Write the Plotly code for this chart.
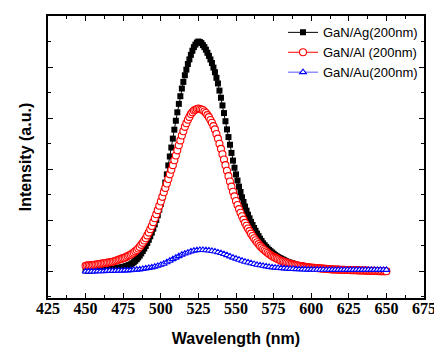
import plotly.graph_objects as go

wavelength_fine = list(range(450, 651, 1))
wavelength_au = list(range(450, 651, 2))

ag_200nm = [
    0.02, 0.02, 0.02, 0.022, 0.025, 0.025, 0.025, 0.028, 0.03, 0.03,
    0.03, 0.033, 0.035, 0.038, 0.04, 0.043, 0.045, 0.048, 0.05, 0.055,
    0.06, 0.065, 0.07, 0.075, 0.08, 0.087, 0.095, 0.105, 0.115, 0.127,
    0.14, 0.158, 0.18, 0.208, 0.24, 0.273, 0.31, 0.353, 0.40, 0.448,
    0.50, 0.558, 0.62, 0.688, 0.76, 0.838, 0.92, 1.008, 1.10, 1.208,
    1.32, 1.445, 1.58, 1.74, 1.90, 2.075, 2.25, 2.425, 2.60, 2.775,
    2.95, 3.115, 3.28, 3.43, 3.58, 3.71, 3.84, 3.95, 4.06, 4.15,
    4.24, 4.32, 4.39, 4.44, 4.48, 4.50, 4.49, 4.47, 4.43, 4.39,
    4.34, 4.28, 4.22, 4.15, 4.08, 3.99, 3.90, 3.79, 3.68, 3.54,
    3.40, 3.25, 3.10, 2.94, 2.78, 2.63, 2.48, 2.32, 2.17, 2.03,
    1.90, 1.78, 1.66, 1.555, 1.45, 1.36, 1.27, 1.19, 1.11, 1.04,
    0.97, 0.91, 0.85, 0.795, 0.74, 0.69, 0.64, 0.595, 0.55, 0.515,
    0.48, 0.45, 0.42, 0.395, 0.37, 0.345, 0.32, 0.30, 0.28, 0.265,
    0.25, 0.235, 0.22, 0.205, 0.19, 0.18, 0.17, 0.16, 0.15, 0.14,
    0.13, 0.125, 0.12, 0.115, 0.11, 0.105, 0.10, 0.095, 0.09, 0.085,
    0.08, 0.078, 0.075, 0.073, 0.07, 0.068, 0.065, 0.063, 0.06, 0.058,
    0.055, 0.053, 0.05, 0.048, 0.045, 0.043, 0.04, 0.039, 0.038, 0.037,
    0.036, 0.035, 0.034, 0.033, 0.032, 0.031, 0.03, 0.029, 0.028, 0.027,
    0.026, 0.025, 0.024, 0.023, 0.022, 0.021, 0.02, 0.019, 0.018, 0.017,
    0.016, 0.015, 0.014, 0.013, 0.012, 0.011, 0.01, 0.009, 0.008, 0.007,
    0.006,
]

al_200nm = [
    0.11, 0.115, 0.12, 0.12, 0.12, 0.125, 0.13, 0.135, 0.14, 0.145,
    0.15, 0.155, 0.16, 0.165, 0.17, 0.175, 0.18, 0.185, 0.19, 0.20,
    0.21, 0.22, 0.23, 0.24, 0.25, 0.26, 0.27, 0.285, 0.30, 0.315,
    0.33, 0.35, 0.37, 0.395, 0.42, 0.45, 0.48, 0.52, 0.56, 0.605,
    0.65, 0.705, 0.76, 0.825, 0.89, 0.965, 1.04, 1.12, 1.20, 1.285,
    1.37, 1.46, 1.55, 1.635, 1.72, 1.81, 1.90, 1.99, 2.08, 2.175,
    2.27, 2.37, 2.47, 2.565, 2.66, 2.745, 2.83, 2.90, 2.97, 3.025,
    3.08, 3.115, 3.15, 3.165, 3.18, 3.19, 3.18, 3.17, 3.16, 3.13,
    3.10, 3.06, 3.02, 2.965, 2.91, 2.845, 2.78, 2.69, 2.60, 2.50,
    2.40, 2.295, 2.19, 2.08, 1.97, 1.865, 1.76, 1.66, 1.56, 1.47,
    1.38, 1.30, 1.22, 1.15, 1.08, 1.015, 0.95, 0.895, 0.84, 0.79,
    0.74, 0.695, 0.65, 0.61, 0.57, 0.535, 0.50, 0.47, 0.44, 0.415,
    0.39, 0.365, 0.34, 0.32, 0.30, 0.285, 0.27, 0.255, 0.24, 0.225,
    0.21, 0.20, 0.19, 0.18, 0.17, 0.16, 0.15, 0.143, 0.135, 0.128,
    0.12, 0.115, 0.11, 0.105, 0.10, 0.095, 0.09, 0.085, 0.08, 0.078,
    0.075, 0.073, 0.07, 0.068, 0.065, 0.063, 0.06, 0.058, 0.055, 0.053,
    0.05, 0.048, 0.045, 0.043, 0.04, 0.039, 0.038, 0.037, 0.035, 0.034,
    0.033, 0.032, 0.03, 0.029, 0.028, 0.027, 0.026, 0.025, 0.024, 0.023,
    0.022, 0.021, 0.02, 0.019, 0.018, 0.017, 0.016, 0.015, 0.014, 0.013,
    0.012, 0.011, 0.01, 0.009, 0.008, 0.007, 0.006, 0.006, 0.005, 0.005,
    0.004,
]

au_200nm = [
    0.0, 0.0, 0.0, 0.0, 0.005, 0.005, 0.005, 0.01, 0.01, 0.01,
    0.01, 0.015, 0.015, 0.02, 0.02, 0.025, 0.03, 0.035, 0.04, 0.05,
    0.06, 0.07, 0.08, 0.095, 0.11, 0.13, 0.15, 0.18, 0.21, 0.24,
    0.27, 0.30, 0.33, 0.35, 0.37, 0.39, 0.405, 0.415, 0.42, 0.42,
    0.415, 0.41, 0.40, 0.39, 0.375, 0.36, 0.34, 0.32, 0.295, 0.27,
    0.25, 0.23, 0.21, 0.19, 0.175, 0.16, 0.145, 0.13, 0.12, 0.11,
    0.10, 0.09, 0.08, 0.075, 0.07, 0.065, 0.06, 0.055, 0.05, 0.048,
    0.045, 0.042, 0.04, 0.038, 0.036, 0.035, 0.034, 0.034, 0.033, 0.033,
    0.032, 0.032, 0.031, 0.031, 0.03, 0.03, 0.03, 0.03, 0.03, 0.03,
    0.03, 0.03, 0.03, 0.03, 0.03, 0.03, 0.03, 0.03, 0.03, 0.03,
    0.03,
]

series_names = ["GaN/Ag(200nm)", "GaN/Al (200nm)", "GaN/Au(200nm)"]
x_ticks = list(range(425, 676, 25))

fig = go.Figure()
fig.add_trace(go.Scatter(
    x=wavelength_fine, y=ag_200nm, name=series_names[0], mode="lines+markers",
    line=dict(color="black", width=1),
    marker=dict(symbol="square", size=6, color="black"),
))
fig.add_trace(go.Scatter(
    x=wavelength_fine, y=al_200nm, name=series_names[1], mode="lines+markers",
    line=dict(color="red", width=1),
    marker=dict(symbol="circle", size=7, color="white", line=dict(color="red", width=1.1)),
))
fig.add_trace(go.Scatter(
    x=wavelength_au, y=au_200nm, name=series_names[2], mode="lines+markers",
    line=dict(color="#5555ff", width=1),
    marker=dict(symbol="triangle-up", size=6, color="white", line=dict(color="blue", width=1.1)),
))

# The page body carries an 8px default margin; the figure is sized and
# offset so that it fills the 442x351 window exactly.
fig.update_layout(
    width=434, height=343,
    margin=dict(l=40, r=14, t=6, b=49),
    paper_bgcolor="white", plot_bgcolor="white",
    showlegend=True,
    legend=dict(
        x=0.625, y=0.995, xanchor="left", yanchor="top",
        bgcolor="rgba(0,0,0,0)", borderwidth=0,
        font=dict(family="Liberation Sans, Arial", size=13, color="black"),
        tracegroupgap=0, itemwidth=30,
    ),
)
fig.update_xaxes(
    range=[425, 675], tickvals=x_ticks, ticktext=["<b>%d</b>" % v for v in x_ticks],
    showline=True, linecolor="black", linewidth=1.5, mirror="ticks",
    ticks="inside", ticklen=5, tickwidth=1.2, tickcolor="black",
    minor=dict(dtick=12.5, tick0=425, ticks="inside", ticklen=3, tickwidth=1, tickcolor="black"),
    showgrid=False, zeroline=False, ticklabelstandoff=-5,
    tickfont=dict(family="Liberation Serif", size=16, color="black"),
    title=dict(text="<b>Wavelength (nm)</b>", standoff=17,
               font=dict(family="Liberation Sans, Arial", size=16, color="black")),
)
fig.update_yaxes(
    range=[-0.52, 5.0], tick0=0, dtick=1,
    showticklabels=False,
    showline=True, linecolor="black", linewidth=1.5, mirror="ticks",
    ticks="inside", ticklen=5, tickwidth=1.2, tickcolor="black",
    minor=dict(dtick=0.5, tick0=0, ticks="inside", ticklen=3, tickwidth=1, tickcolor="black"),
    showgrid=False, zeroline=False,
    title=dict(text="<b>Intensity (a.u.)</b>", standoff=11,
               font=dict(family="Liberation Sans, Arial", size=16, color="black")),
)

fig.write_html("out.html", config={"displayModeBar": False})
